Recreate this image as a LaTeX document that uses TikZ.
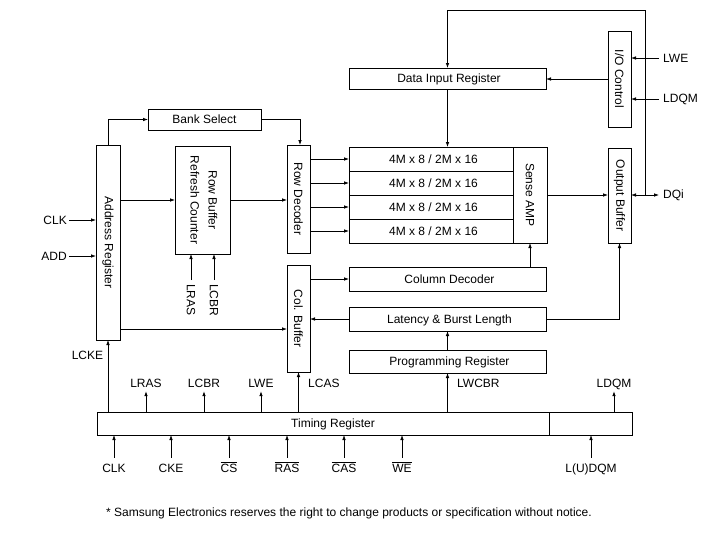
\documentclass[tikz,border=0pt]{standalone}
\usepackage{fontspec}
\setmainfont{Liberation Sans}
\usepackage{graphicx}
\usetikzlibrary{arrows.meta}
\newcommand{\ovl}[1]{$\overline{\hbox{#1}}$}
\begin{document}
\begin{tikzpicture}[x=1pt,y=-1pt,
  every node/.style={font=\fontsize{12}{14}\selectfont},
  box/.style={draw, line width=0.8pt, inner sep=0pt, outer sep=0pt},
  hbox/.style={box, text height=8.6pt, text depth=0pt},
  arr/.style={line width=0.8pt, -{Latex[length=5pt,width=3.6pt]}},
  dbl/.style={line width=0.8pt, {Latex[length=5pt,width=3.6pt]}-{Latex[length=5pt,width=3.6pt]}},
  ln/.style={line width=0.8pt},
  toplbl/.style={anchor=base, inner sep=4pt, text depth=0pt},
  botlbl/.style={anchor=base, inner sep=4pt, text height=10pt},
  rlbl/.style={anchor=west, inner sep=4pt},
  llbl/.style={anchor=east, inner sep=2pt},
]
\useasboundingbox (0,0) rectangle (702,544);
\fill[white] (0,0) rectangle (702,544);

% boxes
\node[hbox, minimum width=113pt, minimum height=21pt] (bank) at (204.5,119.5) {Bank Select};
\node[box, minimum width=24pt, minimum height=195pt] (addr) at (108,242.5) {\rotatebox{-90}{Address Register}};
\node[box, minimum width=55pt, minimum height=108pt] (rowbuf) at (202.5,200) {\rotatebox{-90}{\begin{tabular}{@{}c@{}}Row Buffer\\[4pt]Refresh Counter\end{tabular}}};
\node[box, minimum width=23pt, minimum height=108pt] (rowdec) at (298.5,199) {\rotatebox{-90}{Row Decoder}};
\node[box, minimum width=23pt, minimum height=107pt] (colbuf) at (298.5,318.5) {\rotatebox{-90}{Col. Buffer}};
\node[hbox, minimum width=197pt, minimum height=24pt] (coldec) at (447.5,279) {\hspace*{4pt}Column Decoder};
\node[hbox, minimum width=197pt, minimum height=24pt] (lat) at (447.5,319) {\hspace*{4pt}Latency \& Burst Length};
\node[hbox, minimum width=197pt, minimum height=23pt] (prog) at (447.5,361.5) {\hspace*{4pt}Programming Register};
\node[hbox, minimum width=197pt, minimum height=21pt] (dir) at (447.5,78.5) {\hspace*{3pt}Data Input Register};
\node[hbox, minimum width=164pt, minimum height=24pt] (r1) at (431,159) {\hspace*{5pt}4M x 8 / 2M x 16};
\node[hbox, minimum width=164pt, minimum height=24pt] (r2) at (431,183) {\hspace*{5pt}4M x 8 / 2M x 16};
\node[hbox, minimum width=164pt, minimum height=24pt] (r3) at (431,207) {\hspace*{5pt}4M x 8 / 2M x 16};
\node[hbox, minimum width=164pt, minimum height=24pt] (r4) at (431,231) {\hspace*{5pt}4M x 8 / 2M x 16};
\node[box, minimum width=34pt, minimum height=96pt] (sense) at (530,195) {\rotatebox{-90}{Sense AMP}};
\node[box, minimum width=23pt, minimum height=96pt] (ioc) at (619.5,79) {\rotatebox{-90}{I/O Control}};
\node[box, minimum width=23pt, minimum height=95pt] (outbuf) at (619.5,195.5) {\rotatebox{-90}{Output Buffer}};
\node[hbox, minimum width=452pt, minimum height=23pt] (timing) at (323,423.5) {\hspace*{20pt}Timing Register};
\node[box, minimum width=83pt, minimum height=23pt] (timing2) at (590.5,423.5) {};

% address register connections
\draw[arr] (addr.north) |- (bank.west);
\draw[arr] (bank.east) -| ([xshift=1.5pt]rowdec.north);
\draw[arr] (addr.east |- rowbuf.west) -- (rowbuf.west);
\draw[arr] (rowbuf.east) -- (rowbuf.east -| rowdec.west);
\draw[arr] (addr.east |- 0,329) -- (colbuf.west |- 0,329);

% left inputs
\node[llbl] (clk) at (69,220) {CLK};
\node[llbl] (add) at (69,256) {ADD};
\draw[arr] (clk.east) -- (clk.east -| addr.west);
\draw[arr] (add.east) -- (add.east -| addr.west);

% LRAS / LCBR under row buffer
\node[anchor=north, inner sep=4pt] (vlras) at (191,280) {\rotatebox{-90}{LRAS}};
\node[anchor=north, inner sep=4pt] (vlcbr) at (214,280) {\rotatebox{-90}{LCBR}};
\draw[arr] (vlras.north) -- (vlras.north |- rowbuf.south);
\draw[arr] (vlcbr.north) -- (vlcbr.north |- rowbuf.south);

% row decoder to array
\draw[arr] (rowdec.east |- r1.west) -- (r1.west);
\draw[arr] (rowdec.east |- r2.west) -- (r2.west);
\draw[arr] (rowdec.east |- r3.west) -- (r3.west);
\draw[arr] (rowdec.east |- r4.west) -- (r4.west);

% column path
\draw[arr] (colbuf.east |- coldec.west) -- (coldec.west);
\draw[arr] (lat.west) -- (lat.west -| colbuf.east);
\draw[arr] (prog.north) -- (prog.north |- lat.south);
\draw[arr] (coldec.north -| sense.south) -- (sense.south);
\draw[arr] (lat.east) -| (outbuf.south);

% data path
\draw[arr] (dir.south) -- (dir.south |- r1.north);
\draw[arr] (ioc.west) -- (ioc.west -| dir.east);
\draw[arr] (sense.east) -- (sense.east -| outbuf.west);

% right inputs
\node[rlbl] (lwe) at (659,58) {LWE};
\node[rlbl] (ldqm) at (659,99) {LDQM};
\draw[arr] (lwe.west) -- (lwe.west -| ioc.east);
\draw[arr] (ldqm.west) -- (ldqm.west -| ioc.east);
\node[rlbl] (dqi) at (659,195) {DQi};
\draw[dbl] (outbuf.east |- dqi.west) -- (dqi.west);
\coordinate (fb) at (645,10);
\draw[arr] (fb |- dqi.west) -- (fb) -| (dir.north);

% timing register outputs
\node[anchor=base] (lcke) at (87.5,359) {LCKE};
\draw[arr] (addr.south |- timing.north) -- (addr.south);
\node[toplbl] (tlras) at (146,387) {LRAS};
\node[toplbl] (tlcbr) at (204,387) {LCBR};
\node[toplbl] (tlwe) at (261,387) {LWE};
\node[toplbl] (tldqm) at (614,387) {LDQM};
\draw[arr] (timing.north -| tlras.south) -- (tlras.south);
\draw[arr] (timing.north -| tlcbr.south) -- (tlcbr.south);
\draw[arr] (timing.north -| tlwe.south) -- (tlwe.south);
\draw[arr] (timing2.north -| tldqm.south) -- (tldqm.south);
\node[anchor=base west, inner sep=0pt] (tlcas) at (308,387) {LCAS};
\node[anchor=base west, inner sep=0pt] (tlwcbr) at (457,387) {LWCBR};
\draw[arr] (colbuf.south |- timing.north) -- (colbuf.south);
\draw[arr] (prog.south |- timing.north) -- (prog.south);

% timing register inputs
\node[botlbl] (bclk) at (114,472) {CLK};
\node[botlbl] (bcke) at (171,472) {CKE};
\node[botlbl] (bcs) at (229,472) {\ovl{CS}};
\node[botlbl] (bras) at (287,472) {\ovl{RAS}};
\node[botlbl] (bcas) at (344,472) {\ovl{CAS}};
\node[botlbl] (bwe) at (402,472) {\ovl{WE}};
\node[botlbl] (bdqm) at (591,472) {L(U)DQM};
\draw[arr] (bclk.north) -- (bclk.north |- timing.south);
\draw[arr] (bcke.north) -- (bcke.north |- timing.south);
\draw[arr] (bcs.north) -- (bcs.north |- timing.south);
\draw[arr] (bras.north) -- (bras.north |- timing.south);
\draw[arr] (bcas.north) -- (bcas.north |- timing.south);
\draw[arr] (bwe.north) -- (bwe.north |- timing.south);
\draw[arr] (bdqm.north) -- (bdqm.north |- timing2.south);

% footnote
\node (note) at (349,513) {* Samsung Electronics reserves the right to change products or specification without notice.};
\end{tikzpicture}
\end{document}
